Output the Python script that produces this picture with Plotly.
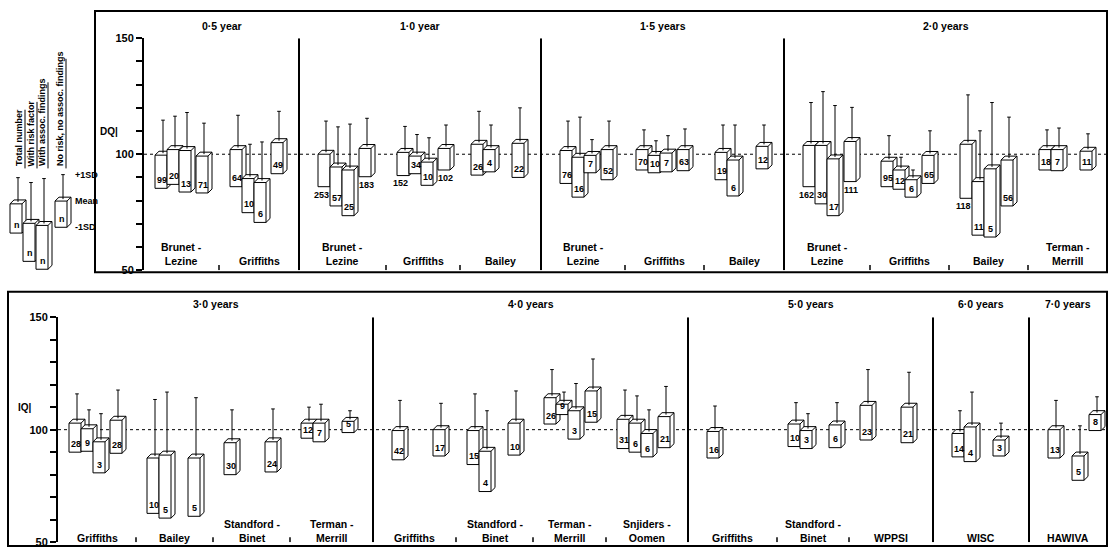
import plotly.graph_objects as go

W, H = 1112, 556

# ---------------- DATA ----------------
SERIES = ["Total number", "With risk factor", "With assoc. findings", "No risk, no assoc. findings"]

# Top panel: developmental quotient (DQ)
TOP_AGES = ["0·5 year", "1·0 year", "1·5 years", "2·0 years"]
TOP_GROUP_AGE = [0, 0, 1, 1, 1, 2, 2, 2, 3, 3, 3, 3]
TOP_TESTS = ["Brunet -<br>Lezine", "Griffiths",
             "Brunet -<br>Lezine", "Griffiths", "Bailey",
             "Brunet -<br>Lezine", "Griffiths", "Bailey",
             "Brunet -<br>Lezine", "Griffiths", "Bailey", "Terman -<br>Merrill"]
TOP_N = [[99, 20, 13, 71], [64, 10, 6, 49],
         [253, 57, 25, 183], [152, 34, 10, 102], [26, 4, None, 22],
         [76, 16, 7, 52], [70, 10, 7, 63], [19, 6, None, 12],
         [162, 30, 17, 111], [95, 12, 6, 65], [118, 11, 5, 56], [18, 7, None, 11]]
TOP_MEAN = [[99.6, 102, 101.6, 99.2], [102, 89.5, 87.8, 105],
            [100, 94.5, 93.2, 102.5], [100.8, 99.2, 96.6, 102.5], [104.3, 102, None, 104.7],
            [101.6, 98.7, 99.5, 102], [102, 99.5, 100.5, 102], [100.8, 97.5, None, 103.4],
            [103.8, 103.8, 98, 105.5], [97, 93.2, 89, 99.5], [104.3, 88.2, 93.7, 97.5], [102, 102, None, 101.3]]
TOP_MINUS_SD = [[85.3, 87, 83.7, 83.3], [86, 74.8, 70.6, 91.6],
                [86, 77.7, 73.5, 90.3], [90.8, 91.6, 86.6, 93.2], [91, 92.4, None, 90],
                [87.4, 81.5, 92, 89], [93.2, 92, 92.4, 92.9], [89, 82, None, 93.7],
                [86, 78.6, 73.5, 88.2], [86, 84.9, 81.5, 87.4], [81, 65.1, 64.3, 77.7], [93.2, 92.9, None, 93.2]]
TOP_PLUS_SD = [[114.7, 116.4, 118, 113.4], [116.8, 104.3, 105.3, 118.5],
               [114.3, 111.8, 113, 115.5], [112, 108.5, 107.1, 112.6], [118.5, 112.6, None, 120],
               [114.3, 116, 106.3, 114.3], [110.5, 105.8, 108, 110.9], [112.6, 112.6, None, 112.6],
               [122.3, 127, 121, 120.2], [108, 98.7, 93.2, 110.1], [125.6, 110.1, 122.3, 116], [110.5, 111.3, None, 108.8]]

# Bottom panel: intelligence quotient (IQ)
BOT_AGES = ["3·0 years", "4·0 years", "5·0 years", "6·0 years", "7·0 years"]
BOT_GROUP_AGE = [0, 0, 0, 0, 1, 1, 1, 1, 2, 2, 2, 3, 4]
BOT_TESTS = ["Griffiths", "Bailey", "Standford -<br>Binet", "Terman -<br>Merrill",
             "Griffiths", "Standford -<br>Binet", "Terman -<br>Merrill", "Snjiders -<br>Oomen",
             "Griffiths", "Standford -<br>Binet", "WPPSI", "WISC", "HAWIVA"]
BOT_N = [[28, 9, 3, 28], [10, 5, None, 5], [30, None, None, 24], [12, 7, None, 5],
         [42, None, None, 17], [15, 4, None, 10], [26, 9, 3, 15], [31, 6, 6, 21],
         [16, None, None, None], [10, 3, None, 6], [23, None, None, 21], [14, 4, None, 3], [13, None, 5, 8]]
BOT_MEAN = [[102.9, 100.4, 94.6, 104.2], [87.4, 88.7, None, 87.4], [94.2, None, None, 94.6], [102.9, 102.9, None, 103.7],
            [99.6, None, None, 100], [99.6, 90.4, None, 102.9], [114.2, 111.3, 108.4, 117.2], [104.6, 102.9, 98.3, 105.8],
            [99.2, None, None, None], [102.5, 99.6, None, 102.1], [110.8, None, None, 110], [98.3, 101.2, None, 95.4],
            [100, None, 88.3, 106.7]]
BOT_MINUS_SD = [[90, 90.4, 80.8, 89.5], [62.8, 60.7, None, 61.5], [80, None, None, 81.2], [96.2, 94.6, None, 98.7],
                [86.6, None, None, 88.3], [84.5, 72.5, None, 88.7], [102.5, 106.7, 95.8, 103.3], [91.6, 90, 87.9, 92],
                [87.4, None, None, None], [92.5, 91.6, None, 92], [95.4, None, None, 94.2], [87.9, 85.8, None, 88.3],
                [87.4, None, 77.5, 99.6]]
BOT_PLUS_SD = [[115.9, 108.8, 107.1, 117.6], [113.4, 116.7, None, 114.2], [108.8, None, None, 109.2], [110, 111.3, None, 108.4],
               [113, None, None, 111.7], [115.9, 108.4, None, 117.2], [126.7, 116.7, 120.5, 131.4], [117.6, 115, 108.8, 119.2],
               [110.5, None, None, None], [112, 107.1, None, 112], [126.7, None, None, 125.5], [108.4, 116.7, None, 102.9],
               [113, None, 101.7, 114.6]]

# Key (illustrative sample boxes)
KEY_MEAN = [78.6, 70.2, 69.3, 79.8]
KEY_MINUS_SD = [66, 53.8, 50.4, 68.5]
KEY_PLUS_SD = [89.9, 87.8, 89.5, 91.2]

# ---------------- LAYOUT CONSTANTS ----------------
TOP_GROUP_WIDTH = [75, 80, 87, 74, 81, 84, 79, 80, 86, 79, 79, 79]
BOT_GROUP_WIDTH = [78, 77, 77, 83, 83, 77, 73, 82, 89, 72, 84, 96, 78]
SLOT_OFFSET = [11, 23, 35, 52]
KEY_SLOT = [10, 23, 36, 55]
BLOCK_PAD = 8
BOX_W = 12
DEPTH = 4          # px
FONT = "Liberation Sans"

TOP_PX = (33, 270)   # y pixel of 150 and 50
BOT_PX = (318, 548)

fig = go.Figure()
annotations = []
shapes = []


def add_box(x0, mean, low, high, dy, xa, ya):
    x1 = x0 + BOX_W
    dx = DEPTH
    xc = x0 + BOX_W / 2 + dx / 2
    yc = mean + dy / 2
    xs = [x0, x0, x0 + dx, x1 + dx, x1 + dx, x1, x0, None,
          x0, x1, x1, None, x1, x1 + dx, None,
          xc, xc, None, xc - 1.8, xc + 1.8]
    ys = [low, mean, mean + dy, mean + dy, low + dy, low, low, None,
          mean, mean, low, None, mean, mean + dy, None,
          yc, high, None, high, high]
    fig.add_trace(go.Scatter(x=xs, y=ys, mode="lines", fill="toself", fillcolor="white",
                             line=dict(color="black", width=1), xaxis=xa, yaxis=ya,
                             hoverinfo="skip", showlegend=False))


def draw_panel(ages, group_age, tests, ns, means, lows, highs, widths, px, xa, ya, total, label_shift):
    xref = xa
    yref = ya
    dy = DEPTH / ((px[1] - px[0]) / 100.0)
    starts = []
    s = 0
    for w in widths:
        starts.append(s)
        s += w
    block_start = {}
    block_end = {}
    for g, a in enumerate(group_age):
        block_start.setdefault(a, starts[g])
        block_end[a] = starts[g] + widths[g]
    for g, a in enumerate(group_age):
        first_in_block = (g == 0 or group_age[g - 1] != a)
        if g > 0:
            if first_in_block:
                shapes.append(dict(type="line", xref=xref, yref=yref, x0=starts[g], x1=starts[g],
                                   y0=50, y1=150, line=dict(color="black", width=2)))
            else:
                shapes.append(dict(type="line", xref=xref, yref=yref, x0=starts[g], x1=starts[g],
                                   y0=50, y1=52.2, line=dict(color="black", width=1.5)))
        pad = BLOCK_PAD if (first_in_block and g > 0) else 0
        for k in range(4):
            if ns[g][k] is None:
                continue
            x0 = starts[g] + SLOT_OFFSET[k] + pad
            add_box(x0, means[g][k], lows[g][k], highs[g][k], dy, xa, ya)
            if ns[g][k] >= 100:
                if k == 0:
                    annotations.append(dict(x=x0 + BOX_W + 1, y=lows[g][k] - 0.4, xref=xref, yref=yref,
                                            text="<b>%d</b>" % ns[g][k], showarrow=False, yanchor="top",
                                            xanchor="right",
                                            font=dict(size=9, family=FONT, color="black")))
                else:
                    annotations.append(dict(x=x0 + BOX_W / 2 + 1, y=lows[g][k] - 0.4, xref=xref, yref=yref,
                                            text="<b>%d</b>" % ns[g][k], showarrow=False, yanchor="top",
                                            font=dict(size=9, family=FONT, color="black")))
            else:
                annotations.append(dict(x=x0 + BOX_W / 2 + 0.5, y=lows[g][k] + 0.6, xref=xref, yref=yref,
                                        text="<b>%d</b>" % ns[g][k], showarrow=False, yanchor="bottom",
                                        font=dict(size=9, family=FONT, color="black")))
        annotations.append(dict(x=starts[g] + widths[g] / 2, y=50, xref=xref, yref=yref,
                                text="<b>%s</b>" % tests[g], showarrow=False, yanchor="bottom",
                                yshift=label_shift,
                                font=dict(size=10.5, family=FONT, color="black")))
    for a, name in enumerate(ages):
        annotations.append(dict(x=(block_start[a] + block_end[a]) / 2, y=1 - (px[0] - 13) / H,
                                xref=xref, yref="paper", text="<b>%s</b>" % name, showarrow=False,
                                yanchor="middle", xanchor="center",
                                font=dict(size=10.5, family=FONT, color="black")))
    shapes.append(dict(type="line", xref=xref, yref=yref, x0=0, x1=total, y0=100, y1=100,
                       layer="below", line=dict(color="black", width=1, dash="dot")))


draw_panel(TOP_AGES, TOP_GROUP_AGE, TOP_TESTS, TOP_N, TOP_MEAN, TOP_MINUS_SD, TOP_PLUS_SD,
           TOP_GROUP_WIDTH, TOP_PX, "x", "y", sum(TOP_GROUP_WIDTH), 1)
draw_panel(BOT_AGES, BOT_GROUP_AGE, BOT_TESTS, BOT_N, BOT_MEAN, BOT_MINUS_SD, BOT_PLUS_SD,
           BOT_GROUP_WIDTH, BOT_PX, "x2", "y2", sum(BOT_GROUP_WIDTH), -4)

# ---- key ----
dyk = DEPTH / ((TOP_PX[1] - TOP_PX[0]) / 100.0)
for k in range(4):
    add_box(KEY_SLOT[k], KEY_MEAN[k], KEY_MINUS_SD[k], KEY_PLUS_SD[k], dyk, "x3", "y3")
    annotations.append(dict(x=KEY_SLOT[k] + BOX_W / 2 + 0.5, y=KEY_MINUS_SD[k] + 0.6, xref="x3", yref="y3",
                            text="<b>n</b>", showarrow=False, yanchor="bottom",
                            font=dict(size=9, family=FONT, color="black")))
for txt, val in zip(["+1SD", "Mean", "-1SD"], [KEY_PLUS_SD[3], KEY_MEAN[3], KEY_MINUS_SD[3]]):
    annotations.append(dict(x=KEY_SLOT[3] + BOX_W + DEPTH + 2, y=val, xref="x3", yref="y3",
                            text="<b>%s</b>" % txt, showarrow=False, xanchor="left", yanchor="middle",
                            font=dict(size=9, family=FONT, color="black")))
key_text_x = [19, 31, 42, 60]
for k, name in enumerate(SERIES):
    annotations.append(dict(x=key_text_x[k], y=1 - 166 / H, xref="x3", yref="paper",
                            text="<b>%s</b>" % name, showarrow=False, textangle=-90,
                            xanchor="center", yanchor="bottom",
                            font=dict(size=9, family=FONT, color="black")))
    shapes.append(dict(type="line", xref="x3", yref="paper", x0=key_text_x[k] + 6, x1=key_text_x[k] + 6,
                       y0=1 - 166 / H, y1=1 - (166 - [60, 68, 88, 112][k]) / H,
                       line=dict(color="black", width=1)))

# ---- frames ----
shapes.append(dict(type="rect", xref="paper", yref="paper", x0=95 / W, x1=1107 / W,
                   y0=1 - 272 / H, y1=1 - 5 / H, line=dict(color="black", width=2)))
shapes.append(dict(type="rect", xref="paper", yref="paper", x0=8 / W, x1=1107 / W,
                   y0=1 - 552 / H, y1=1 - 292 / H, line=dict(color="black", width=2)))

# axis name labels
annotations.append(dict(x=0, y=110, xref="x", yref="y", text="<b>DQ|</b>", showarrow=False,
                        xanchor="right", xshift=-24, font=dict(size=10, family=FONT, color="black")))
annotations.append(dict(x=0, y=110, xref="x2", yref="y2", text="<b>IQ|</b>", showarrow=False,
                        xanchor="right", xshift=-24, font=dict(size=10, family=FONT, color="black")))

tickvals = list(range(50, 151, 10))
ticktext = ["<b>%d</b>" % v if v in (50, 100, 150) else "" for v in tickvals]
yax = dict(range=[50, 150], tickvals=tickvals, ticktext=ticktext, ticks="outside", ticklen=6,
           tickwidth=1.5, tickcolor="black", showline=True, linewidth=2, linecolor="black",
           showgrid=False, zeroline=False, tickfont=dict(size=11, family=FONT, color="black"),
           fixedrange=True)
xax = dict(visible=False, showgrid=False, zeroline=False, fixedrange=True)

fig.update_layout(
    width=W, height=H, autosize=False,
    margin=dict(l=0, r=0, t=0, b=0),
    paper_bgcolor="white", plot_bgcolor="rgba(0,0,0,0)",
    showlegend=False,
    xaxis=dict(xax, domain=[144 / W, 1107 / W], range=[0, sum(TOP_GROUP_WIDTH)], anchor="y"),
    yaxis=dict(yax, domain=[1 - TOP_PX[1] / H, 1 - TOP_PX[0] / H], anchor="x"),
    xaxis2=dict(xax, domain=[58 / W, 1107 / W], range=[0, sum(BOT_GROUP_WIDTH)], anchor="y2"),
    yaxis2=dict(yax, domain=[1 - BOT_PX[1] / H, 1 - BOT_PX[0] / H], anchor="x2"),
    xaxis3=dict(xax, domain=[0, 95 / W], range=[0, 95], anchor="y3"),
    yaxis3=dict(visible=False, domain=[1 - TOP_PX[1] / H, 1 - TOP_PX[0] / H], range=[50, 150],
                anchor="x3", fixedrange=True),
    annotations=annotations,
    shapes=shapes,
)

post = ("document.documentElement.style.margin='0';document.body.style.margin='0';"
        "document.body.style.overflow='hidden';"
        "var d=document.getElementById('{plot_id}');d.style.position='absolute';"
        "d.style.left='0px';d.style.top='0px';")
fig.write_html("out.html", post_script=post, config={"displayModeBar": False})
